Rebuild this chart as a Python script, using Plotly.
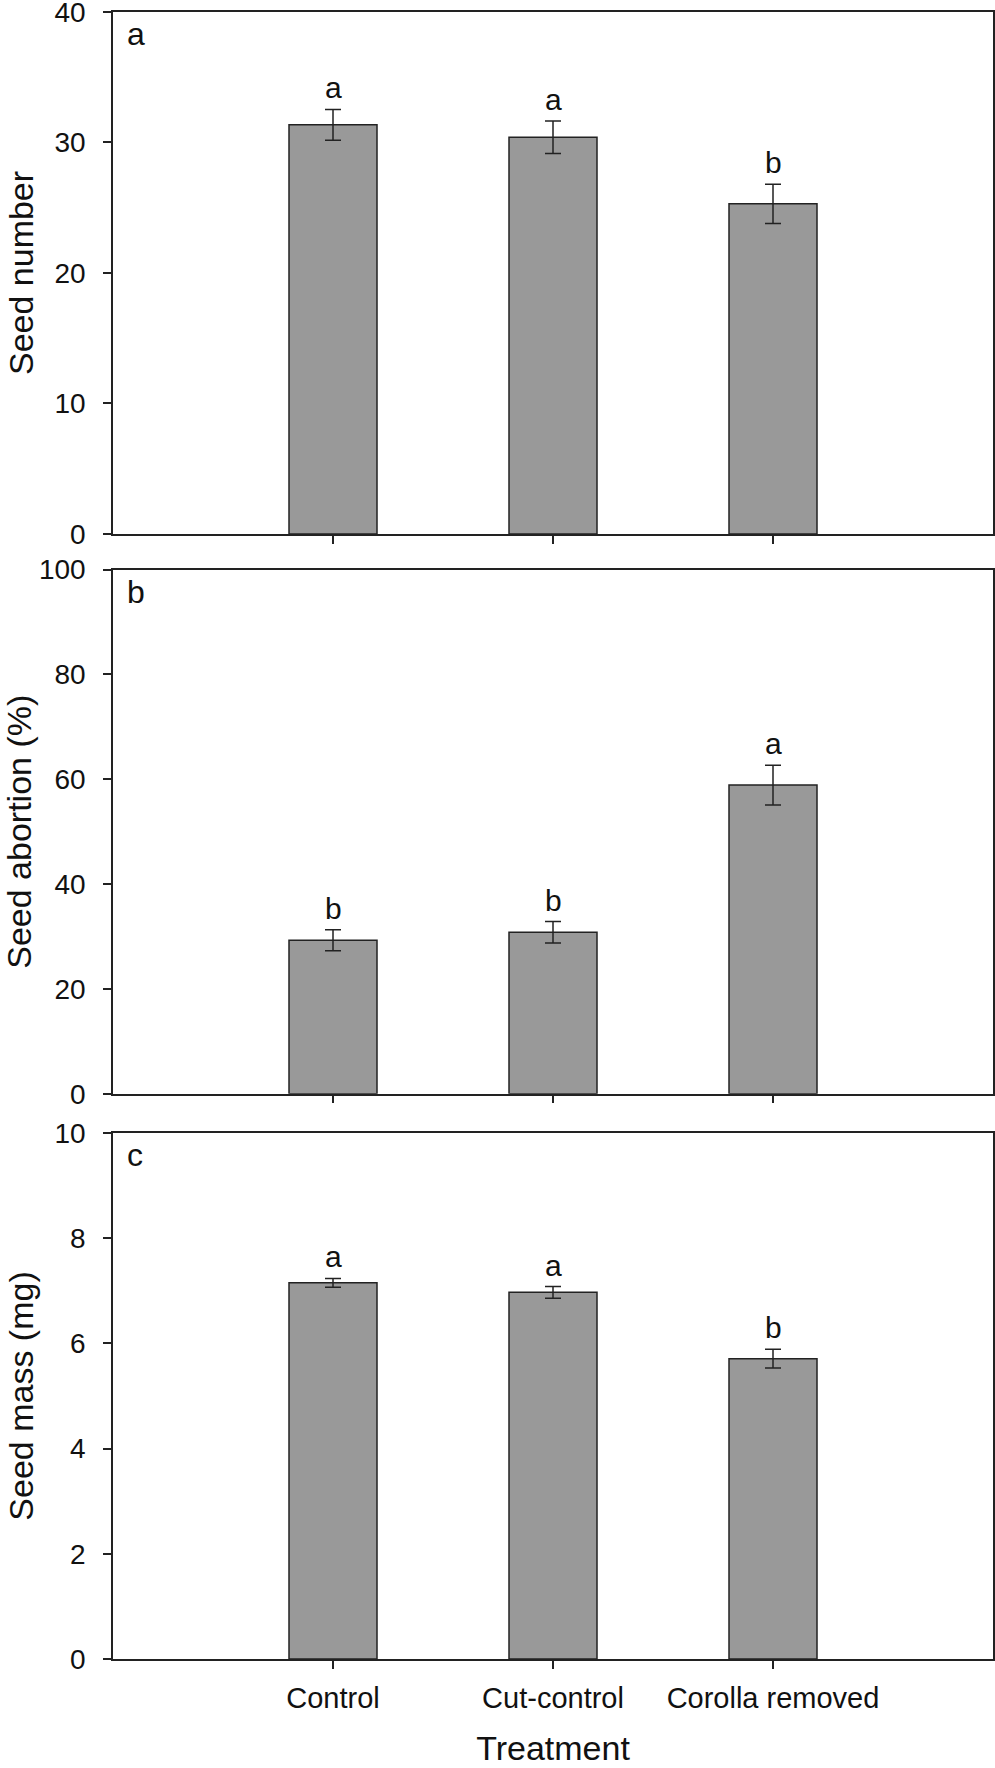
import plotly.graph_objects as go

# ---- data ----
treatments = ["Control", "Cut-control", "Corolla removed"]

seed_number = [31.35, 30.4, 25.3]
seed_number_se = [1.18, 1.24, 1.5]
seed_number_letters = ["a", "a", "b"]

seed_abortion = [29.3, 30.8, 58.9]
seed_abortion_se = [2.0, 2.05, 3.8]
seed_abortion_letters = ["b", "b", "a"]

seed_mass = [7.15, 6.97, 5.71]
seed_mass_se = [0.085, 0.11, 0.18]
seed_mass_letters = ["a", "a", "b"]

panel_labels = ["a", "b", "c"]
y_titles = ["Seed number", "Seed abortion (%)", "Seed mass (mg)"]
y_ranges = [[0, 40], [0, 100], [0, 10]]
y_dticks = [10, 20, 2]

FONT = "Liberation Sans, Arial, sans-serif"
INK = "#222222"
TXT = "#111111"

panels = [
    (seed_number, seed_number_se, seed_number_letters),
    (seed_abortion, seed_abortion_se, seed_abortion_letters),
    (seed_mass, seed_mass_se, seed_mass_letters),
]
domains = [[0.6831, 1.0], [0.3432, 0.6614], [0.0, 0.3194]]

fig = go.Figure()
annotations = []
for i, (vals, se, letters) in enumerate(panels):
    n = "" if i == 0 else str(i + 1)
    fig.add_trace(go.Bar(
        x=treatments, y=vals, width=0.4,
        marker=dict(color="#999999", line=dict(color=INK, width=1.5)),
        error_y=dict(type="data", array=se, visible=True,
                     color=INK, thickness=1.5, width=8),
        xaxis="x" + n, yaxis="y" + n, showlegend=False,
    ))
    for t, v, e, l in zip(treatments, vals, se, letters):
        annotations.append(dict(
            x=t, y=v + e, xref="x" + n, yref="y" + n, text=l,
            showarrow=False, yanchor="bottom", yshift=3,
            font=dict(family=FONT, size=30, color=TXT)))
    annotations.append(dict(
        x=0, y=1, xref=("x" + n) + " domain", yref=("y" + n) + " domain",
        text=panel_labels[i], showarrow=False, xanchor="left", yanchor="top",
        xshift=12, yshift=-2,
        font=dict(family=FONT, size=32, color=TXT)))

    last = (i == 2)
    xa = dict(
        domain=[0, 1], anchor="y" + n, type="category",
        categoryorder="array", categoryarray=treatments,
        range=[-1, 3], showline=True, linecolor=INK, linewidth=1.5,
        mirror=True, ticks="outside", ticklen=8, tickwidth=1.5, tickcolor=INK,
        showgrid=False, zeroline=False, showticklabels=last,
        tickfont=dict(family=FONT, size=29, color=TXT),
        ticklabelstandoff=4,
    )
    if last:
        xa["title"] = dict(text="Treatment", standoff=24,
                           font=dict(family=FONT, size=34, color=TXT))
    ya = dict(
        domain=domains[i], anchor="x" + n, range=y_ranges[i], dtick=y_dticks[i],
        showline=True, linecolor=INK, linewidth=1.5, mirror=True,
        ticks="outside", ticklen=8, tickwidth=1.5, tickcolor=INK,
        showgrid=False, zeroline=False,
        tickfont=dict(family=FONT, size=28, color=TXT),
        ticklabelstandoff=12, ticklabeloverflow="allow",
        title=dict(text=y_titles[i], standoff=11,
                   font=dict(family=FONT, size=34, color=TXT)),
    )
    fig.layout["xaxis" + n] = xa
    fig.layout["yaxis" + n] = ya

fig.update_layout(
    width=995, height=1768,
    margin=dict(l=113, r=2, t=12, b=109, autoexpand=False),
    paper_bgcolor="white", plot_bgcolor="white",
    annotations=annotations, bargap=0.6,
)

fig.write_html(
    "out.html",
    config={"displayModeBar": False},
    post_script="document.body.style.margin='0';document.body.style.overflow='hidden';",
)
